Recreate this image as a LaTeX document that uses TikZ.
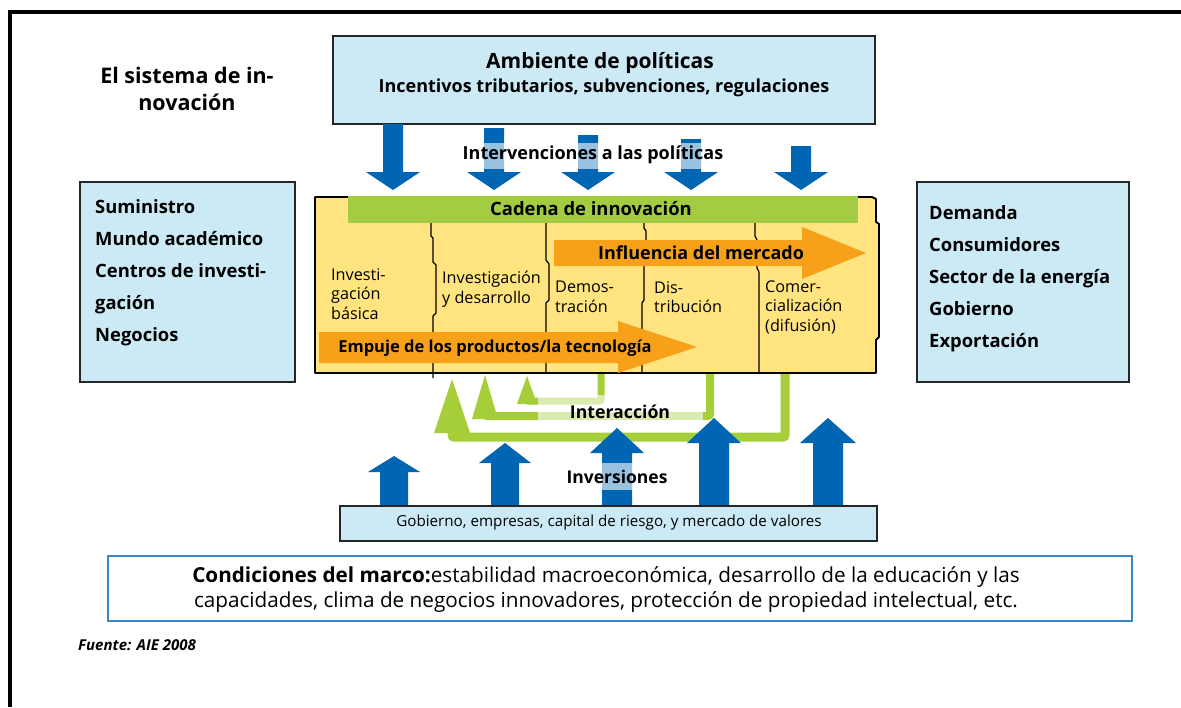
\documentclass[tikz,border=0pt]{standalone}
\usepackage{fontspec}
\setmainfont{Open Sans}
\definecolor{boxblue}{RGB}{204,234,245}
\definecolor{arrblue}{RGB}{0,102,179}
\definecolor{chainyellow}{RGB}{255,228,128}
\definecolor{chaingreen}{RGB}{164,204,66}
\definecolor{loopgreen}{RGB}{166,206,57}
\definecolor{pushorange}{RGB}{247,161,27}
\definecolor{frameblue}{RGB}{58,135,200}
\newcommand\arrdown[2]{\fill[invarrow] (#1-10,#2) -- (#1+10,#2) -- (#1+10,172) -- (#1+27,172) -- (#1,190) -- (#1-27,172) -- (#1-10,172) -- cycle;}
\newcommand\arrup[5]{\fill[invarrow] (#1-#5,507) -- (#1-#5,#3) -- (#1-#4,#3) -- (#1,#2) -- (#1+#4,#3) -- (#1+#5,#3) -- (#1+#5,507) -- cycle;}
\begin{document}
\begin{tikzpicture}[x=1pt,y=-1pt,
  lbox/.style={draw=black!85, line width=1.6pt, fill=boxblue, inner sep=0pt},
  invarrow/.style={fill=arrblue},
  greenloop/.style={draw=loopgreen, rounded corners=2pt},
  greenhead/.style={fill=loopgreen},
  pushfill/.style={fill=pushorange},
  divider/.style={draw=black, line width=1.3pt},
  pale/.style={fill=white, fill opacity=0.6, draw=none},
  boldlab/.style={font=\fontsize{18}{21}\selectfont\bfseries, inner sep=0pt},
  stagelab/.style={font=\fontsize{16.2}{19.5}\selectfont, align=left, anchor=west, inner sep=0pt},
  itemlist/.style={font=\fontsize{18.4}{32}\selectfont\bfseries, align=left, anchor=north west, inner sep=0pt},
]
\useasboundingbox (0,0) rectangle (1181,707);
\fill[white] (0,0) rectangle (1181,707);
% frame
\draw[line width=3.5pt] (10,707) -- (10,12) -- (1181,12);

% title
\node[align=center, font=\fontsize{21.5}{27}\selectfont\bfseries, inner sep=0pt] (title) at (187,89) {El sistema de in-\\novación};

% policy environment box
\node[lbox, minimum width=542, minimum height=88] (amb) at (604,80) {};
\node[font=\fontsize{21}{24}\selectfont\bfseries, inner sep=0pt] (ambt) at (600,63) {Ambiente de políticas};
\node[font=\fontsize{18}{21}\selectfont\bfseries, inner sep=0pt] (ambs) at (604,88) {Incentivos tributarios, subvenciones, regulaciones};

% down arrows
\arrdown{393}{124}
\arrdown{494}{128}
\arrdown{588}{135}
\arrdown{691}{139}
\arrdown{801}{146}
\fill[pale] (458,143) rectangle (726,169);
\node[boldlab] (interv) at (593,155) {Intervenciones a las políticas};

% side boxes
\node[lbox, minimum width=215, minimum height=200] (supply) at (187.5,282) {};
\node[itemlist] (supplyt) at (95,199) {Suministro\\Mundo académico\\Centros de investi-\\gación\\Negocios};
\node[lbox, minimum width=212, minimum height=200] (demand) at (1023,282) {};
\node[itemlist] (demandt) at (929,205) {Demanda\\Consumidores\\Sector de la energía\\Gobierno\\Exportación};

% interaction loops (behind chain)
\draw[greenloop, line width=9pt] (785,372) -- (785,437) -- (452,437) -- (452,424);
\fill[greenhead] (434,433) -- (452,379) -- (470,433) -- cycle;
\draw[greenloop, line width=8pt] (710,372) -- (710,416) -- (485,416) -- (485,410);
\fill[greenhead] (472,419) -- (485,375) -- (498,419) -- cycle;
\draw[greenloop, line width=7pt] (601,372) -- (601,401) -- (527,401);
\fill[greenhead] (517,404) -- (527,376) -- (537,404) -- cycle;

% innovation chain
\fill[chainyellow] (315,197) -- (872,197) -- (876,199) -- (876,222) -- (879,224) -- (879,337) -- (876,340) -- (876,373) -- (315,373) -- cycle;
\node[minimum width=564, minimum height=176, inner sep=0pt] (chain) at (597,285) {};
\draw[line width=1.8pt, line join=round] (872,197) -- (876,199) -- (876,222) -- (879,224) -- (879,337) -- (876,340) -- (876,373) -- (315,373) -- (315,197) -- (872,197);
\fill[chaingreen] (348,196) rectangle (858,223);
\node[boldlab, font=\fontsize{18.4}{21}\selectfont\bfseries] (cadena) at (591,209) {Cadena de innovación};
\draw[divider] (431,223) -- (431,236) -- (433,238) -- (433,262) -- (436,265) -- (436,313) -- (433,316) -- (433,378);
\draw[divider] (546,223) -- (546,260) -- (549,264) -- (549,300) -- (546,303) -- (546,374);
\draw[divider] (644,223) -- (644,228) -- (646,231) -- (646,262) -- (644,266) -- (644,300) -- (642,303) -- (642,374);
\draw[divider] (755,223) -- (755,236) -- (757,240) -- (757,268) -- (759,272) -- (759,374);
\fill[pushfill] (554,240) -- (802,240) -- (802,227) -- (866,253) -- (802,279) -- (802,266) -- (554,266) -- cycle;
\node[boldlab] (mercado) at (701,253) {Influencia del mercado};
\fill[pushfill] (319,332) -- (618,332) -- (618,321) -- (697,347) -- (618,373) -- (618,363) -- (319,363) -- cycle;
\node[boldlab, font=\fontsize{16.5}{19}\selectfont\bfseries] (empuje) at (495,348) {Empuje de los productos/la tecnología};
\node[stagelab] (st1) at (331,294) {Investi-\\gación\\básica};
\node[stagelab] (st2) at (442,289) {Investigación\\y desarrollo};
\node[stagelab] (st3) at (555,297) {Demos-\\tración};
\node[stagelab] (st4) at (654,297) {Dis-\\tribución};
\node[stagelab] (st5) at (765,307) {Comer-\\cialización\\(difusión)};

% investment arrows
\arrup{394}{456}{472}{26}{14}
\arrup{505}{443}{463}{26}{14}
\arrup{617}{428}{453}{27}{15}
\arrup{714}{418}{443}{27}{15}
\arrup{828}{418}{443}{28}{15}

% pale label boxes
\fill[pale] (538,395) rectangle (703,423);
\node[boldlab, font=\fontsize{17.7}{20}\selectfont\bfseries] (interac) at (620,412) {Interacción};
\fill[pale] (566,463) rectangle (668,490);
\node[boldlab, font=\fontsize{17.5}{20}\selectfont\bfseries] (invers) at (617,477) {Inversiones};

% financing box
\node[lbox, minimum width=537, minimum height=35] (fin) at (608.5,523.5) {};
\node[font=\fontsize{15.2}{17}\selectfont, inner sep=0pt] (fint) at (609,523) {Gobierno, empresas, capital de riesgo, y mercado de valores};

% framework conditions
\node[draw=frameblue, line width=1.6pt, fill=white, minimum width=1024, minimum height=65, inner sep=0pt] (cond) at (620,588.5) {};
\node[font=\fontsize{20.7}{25}\selectfont, align=center, inner sep=0pt] (condt) at (606,590) {\textbf{Condiciones del marco:}estabilidad macroeconómica, desarrollo de la educación y las\\capacidades, clima de negocios innovadores, protección de propiedad intelectual, etc.};

% source
\node[font=\fontsize{15}{17}\selectfont\bfseries\itshape, anchor=west, inner sep=0pt] (src) at (78,645) {Fuente: AIE 2008};
\end{tikzpicture}
\end{document}
